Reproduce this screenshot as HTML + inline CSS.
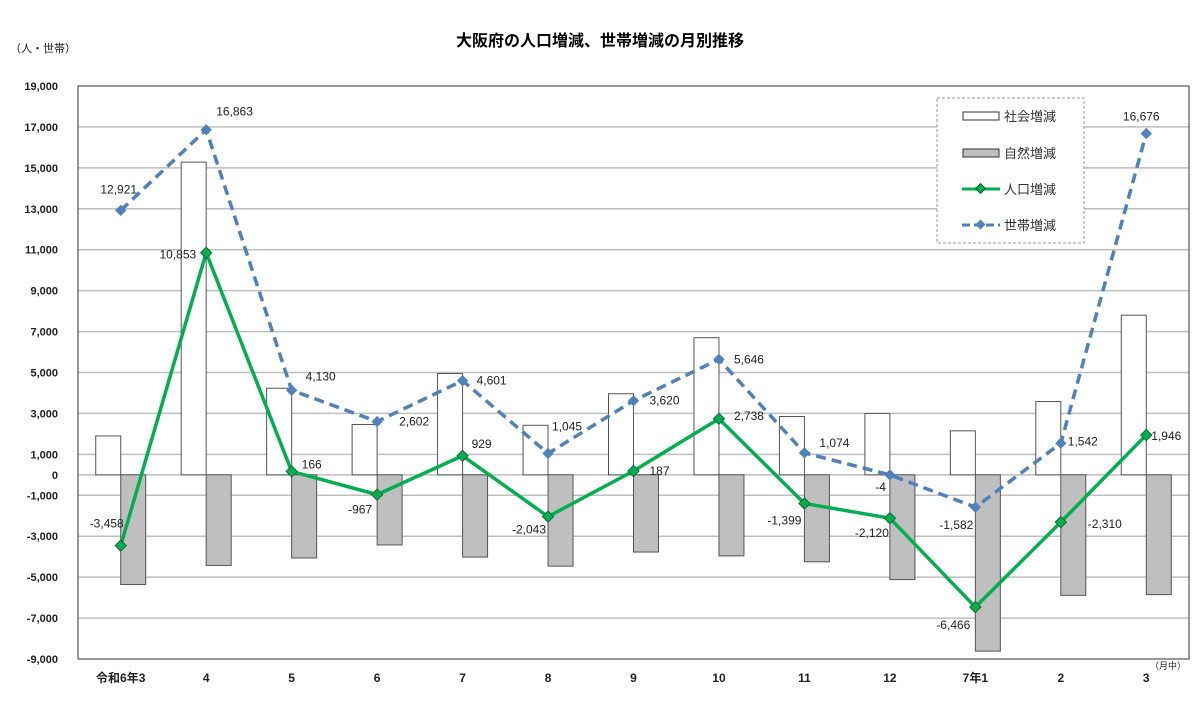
<!DOCTYPE html>
<html><head><meta charset="utf-8"><style>
body{margin:0;background:#fff;}
svg{display:block;font-family:"Liberation Sans","Noto Sans CJK JP",sans-serif;}
</style></head><body>
<svg id="chart" width="1200" height="725" viewBox="0 0 1200 725" xmlns="http://www.w3.org/2000/svg">
<text x="600" y="46" text-anchor="middle" font-size="16" font-weight="bold" font-family="'Liberation Sans','Noto Sans CJK JP',sans-serif">大阪府の人口増減、世帯増減の月別推移</text>
<text x="10" y="52" font-size="11" fill="#222">（人・世帯）</text>
<text x="1150" y="669" font-size="9" fill="#222">（月中）</text>
<g id="grid"></g>
<g id="bars"></g>
<g id="lines"></g>
<g id="labels"></g>
<g id="axes"></g>
<g>
  <rect x="937" y="98" width="147" height="145" fill="#fff" stroke="#999" stroke-dasharray="3,2"/>
  <rect x="963" y="112" width="36" height="8" fill="#fff" stroke="#333"/>
  <text x="1004" y="121" font-size="13" fill="#333">社会増減</text>
  <rect x="963" y="149" width="36" height="8" fill="#bfbfbf" stroke="#333"/>
  <text x="1004" y="158" font-size="13" fill="#333">自然増減</text>
  <line x1="962" y1="189" x2="1000" y2="189" stroke="#00b050" stroke-width="3"/>
  <rect x="977" y="185" width="7" height="7" transform="rotate(45 980.5 188.5)" fill="#00b050" stroke="#0a5a2a"/>
  <text x="1004" y="194" font-size="13" fill="#333">人口増減</text>
  <line x1="962" y1="225" x2="1000" y2="225" stroke="#4f81bd" stroke-width="3" stroke-dasharray="8,4"/>
  <rect x="977" y="221" width="7" height="7" transform="rotate(45 980.5 224.5)" fill="#4f81bd"/>
  <text x="1004" y="230" font-size="13" fill="#333">世帯増減</text>
</g>
</svg>
<script>
const categories = ["令和6年3","4","5","6","7","8","9","10","11","12","7年1","2","3"];
const socialValues = [1900,15280,4230,2460,4950,2420,3960,6700,2850,3000,2150,3580,7800];
const naturalValues = [-5358,-4427,-4064,-3427,-4021,-4463,-3773,-3962,-4249,-5120,-8616,-5890,-5854];
const populationValues = [-3458,10853,166,-967,929,-2043,187,2738,-1399,-2120,-6466,-2310,1946];
const householdValues = [12921,16863,4130,2602,4601,1045,3620,5646,1074,-4,-1582,1542,16676];
const populationLabels = ["-3,458","10,853","166","-967","929","-2,043","187","2,738","-1,399","-2,120","-6,466","-2,310","1,946"];
const householdLabels = ["12,921","16,863","4,130","2,602","4,601","1,045","3,620","5,646","1,074","-4","-1,582","1,542","16,676"];
const yTickValues = [19000,17000,15000,13000,11000,9000,7000,5000,3000,1000,0,-1000,-3000,-5000,-7000,-9000];
const yTickLabels = ["19,000","17,000","15,000","13,000","11,000","9,000","7,000","5,000","3,000","1,000","0","-1,000","-3,000","-5,000","-7,000","-9,000"];

const L=78,R=1189,T=86,B=659,YMAX=19000,YMIN=-9000;
const band=(R-L)/categories.length;
const xc=i=>L+band*(i+0.5);
const y=v=>T+(YMAX-v)/(YMAX-YMIN)*(B-T);
const NS="http://www.w3.org/2000/svg";
function mk(tag,attrs,parent){const e=document.createElementNS(NS,tag);for(const k in attrs)e.setAttribute(k,attrs[k]);parent.appendChild(e);return e;}
const grid=document.getElementById('grid'),bars=document.getElementById('bars'),lines=document.getElementById('lines'),labels=document.getElementById('labels'),axes=document.getElementById('axes');

yTickValues.forEach((v,i)=>{
  if(v!==YMAX&&v!==YMIN&&v!==0){const g=mk('line',{x1:L,x2:R,y1:y(v),y2:y(v),stroke:'#bfbfbf','stroke-width':1.5},grid);
  
  }
  const t=mk('text',{x:58,y:y(v)+4,'text-anchor':'end','font-size':11,'font-weight':'bold',fill:'#222'},axes);
  t.textContent=yTickLabels[i];
  
  
});
const zl=mk('line',{x1:L,x2:R,y1:y(0),y2:y(0),stroke:'#bfbfbf','stroke-width':1.5},grid);


const frame=mk('rect',{x:L,y:T,width:R-L,height:B-T,fill:'none',stroke:'#555','stroke-width':1.2},axes);


categories.forEach((c,i)=>{
  const t=mk('text',{x:xc(i),y:682,'text-anchor':'middle','font-size':12,'font-weight':'bold',fill:'#222'},axes);
  t.textContent=c;
  
  
});
const bw=25;
socialValues.forEach((v,i)=>{
  const r=mk('rect',{x:xc(i)-bw,y:Math.min(y(v),y(0)),width:bw,height:Math.abs(y(v)-y(0)),fill:'#fff',stroke:'#555','stroke-width':1},bars);
  
  
});
naturalValues.forEach((v,i)=>{
  const r=mk('rect',{x:xc(i),y:Math.min(y(v),y(0)),width:bw,height:Math.abs(y(v)-y(0)),fill:'#bfbfbf',stroke:'#555','stroke-width':1},bars);
  
  
});
const hp=mk('polyline',{points:householdValues.map((v,i)=>xc(i)+','+y(v)).join(' '),fill:'none',stroke:'#4f81bd','stroke-width':3.5,'stroke-dasharray':'10,6'},lines);


householdValues.forEach((v,i)=>{
  const m=mk('rect',{x:xc(i)-4,y:y(v)-4,width:8,height:8,fill:'#4f81bd',transform:`rotate(45 ${xc(i)} ${y(v)})`},lines);
  
  
});
const pp=mk('polyline',{points:populationValues.map((v,i)=>xc(i)+','+y(v)).join(' '),fill:'none',stroke:'#00b050','stroke-width':3.5},lines);


populationValues.forEach((v,i)=>{
  const m=mk('rect',{x:xc(i)-4,y:y(v)-4,width:8,height:8,fill:'#00b050',stroke:'#0a5a2a','stroke-width':0.8,transform:`rotate(45 ${xc(i)} ${y(v)})`},lines);
  
  
});
// label offsets [dx,dy,anchor]
const hOff=[[-2,-17,'middle'],[10,-14,'start'],[14,-10,'start'],[22,4,'start'],[14,4,'start'],[4,-23,'start'],[16,4,'start'],[15,4,'start'],[15,-6,'start'],[-4,16,'end'],[-2,22,'end'],[7,2,'start'],[-5,-13,'middle']];
const pOff=[[3,-18,'end'],[-10,6,'end'],[10,-3,'start'],[-5,19,'end'],[9,-8,'start'],[-2,17,'end'],[16,4,'start'],[15,1,'start'],[-3,21,'end'],[-1,19,'end'],[-5,22,'end'],[27,6,'start'],[5,5,'start']];
function lab(vals,txt,off,name){vals.forEach((v,i)=>{
  const o=off[i];
  const t=mk('text',{x:xc(i)+o[0],y:y(v)+o[1],'text-anchor':o[2],'font-size':12,fill:'#222'},labels);
  t.textContent=txt[i];
  
  
});}
lab(householdValues,householdLabels,hOff,'households-value-label');
lab(populationValues,populationLabels,pOff,'population-value-label');
</script>
</body></html>
